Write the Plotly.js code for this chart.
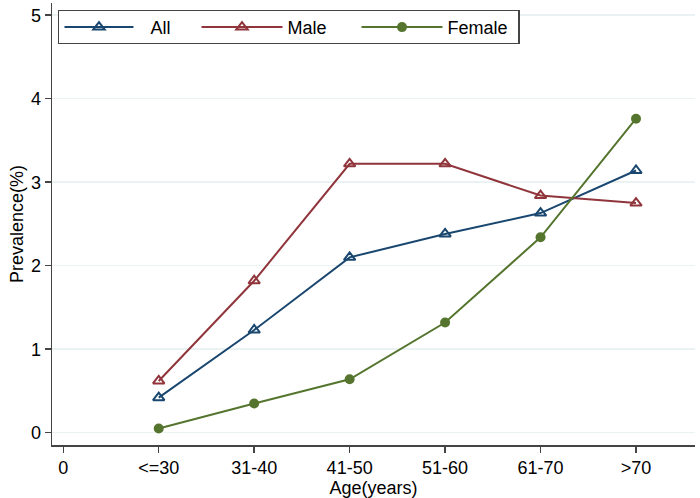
<!DOCTYPE html>
<html>
<head>
<meta charset="utf-8">
<script src="https://cdn.plot.ly/plotly-3.0.1.min.js"></script>
<style>html,body{margin:0;padding:0;background:#fff;}#chart{width:700px;height:498px;}</style>
</head>
<body>
<div id="chart"></div>
<script>
const xPos = [1, 2, 3, 4, 5, 6];
const tickVals = [0, 1, 2, 3, 4, 5, 6];
const tickLabels = ['0', '<=30', '31-40', '41-50', '51-60', '61-70', '>70'];
const allVals = [0.42, 1.23, 2.10, 2.38, 2.63, 3.14];
const maleVals = [0.62, 1.82, 3.22, 3.22, 2.84, 2.75];
const femaleVals = [0.05, 0.35, 0.64, 1.32, 2.34, 3.76];

const font = 'Liberation Sans, Arial, sans-serif';

const traces = [
  {x: xPos, y: allVals, name: 'All', mode: 'lines+markers', type: 'scatter', legend: 'legend',
   line: {color: '#1a476f', width: 2},
   marker: {symbol: 'triangle-up-open', size: 10, color: '#1a476f', line: {width: 2}}},
  {x: xPos, y: maleVals, name: 'Male', mode: 'lines+markers', type: 'scatter', legend: 'legend2',
   line: {color: '#90353b', width: 2},
   marker: {symbol: 'triangle-up-open', size: 10, color: '#90353b', line: {width: 2}}},
  {x: xPos, y: femaleVals, name: 'Female', mode: 'lines+markers', type: 'scatter', legend: 'legend3',
   line: {color: '#55752f', width: 2},
   marker: {symbol: 'circle', size: 10, color: '#55752f'}}
];

const legFont = {family: font, size: 18, color: '#000'};
const legY = 0.990;
const layout = {
  width: 700, height: 498,
  paper_bgcolor: '#fff', plot_bgcolor: '#fff',
  margin: {l: 52, r: 5, t: 3, b: 53, autoexpand: false},
  font: {family: font, size: 18, color: '#000'},
  showlegend: true,
  legend: {
    orientation: 'h', x: 0.0093, y: legY, xanchor: 'left', yanchor: 'top',
    bgcolor: '#fff', bordercolor: '#444', borderwidth: 1.5,
    itemwidth: 81, entrywidth: 363, font: legFont
  },
  legend2: {
    orientation: 'h', x: (195 - 52) / 643, y: legY, xanchor: 'left', yanchor: 'top',
    bgcolor: 'rgba(0,0,0,0)', borderwidth: 1.5, bordercolor: 'rgba(0,0,0,0)',
    itemwidth: 81, font: legFont
  },
  legend3: {
    orientation: 'h', x: (355 - 52) / 643, y: legY, xanchor: 'left', yanchor: 'top',
    bgcolor: 'rgba(0,0,0,0)', borderwidth: 1.5, bordercolor: 'rgba(0,0,0,0)',
    itemwidth: 81, font: legFont
  },
  xaxis: {
    range: [-0.118, 6.618], tickmode: 'array', tickvals: tickVals, ticktext: tickLabels,
    showgrid: false, zeroline: false, showline: true, linecolor: '#444', linewidth: 1.5,
    ticks: 'outside', ticklen: 6, tickcolor: '#444', tickwidth: 1.5,
    tickfont: {family: font, size: 18, color: '#000'},
    title: {text: 'Age(years)', font: {family: font, size: 18, color: '#000'}, standoff: 0}
  },
  yaxis: {
    range: [-0.147, 5.146], tickmode: 'array', tickvals: [0, 1, 2, 3, 4, 5],
    showgrid: true, gridcolor: '#eaf2f3', gridwidth: 1.5, zeroline: false,
    showline: true, linecolor: '#444', linewidth: 1.5,
    ticks: 'outside', ticklen: 6, tickcolor: '#444', tickwidth: 1.5,
    tickfont: {family: font, size: 18, color: '#000'},
    title: {text: 'Prevalence(%)', font: {family: font, size: 18, color: '#000'}, standoff: 2}
  }
};

Plotly.newPlot('chart', traces, layout, {displayModeBar: false, staticPlot: true}).then(function (gd) {
  // lengthen legend sample lines to match the reference key style
  gd.querySelectorAll('.legend .traces').forEach(function (t) {
    const ln = t.querySelector('path.js-line');
    if (ln) ln.setAttribute('d', 'M5,0h69');
    t.querySelectorAll('.legendpoints path.scatterpts').forEach(function (p) {
      p.setAttribute('transform', 'translate(39.5,0)');
    });
  });
  // tighten the framed legend box vertically around its row
  const leg = gd.querySelector('.legend');
  const bg = leg && leg.querySelector('rect.bg');
  const ln = leg && leg.querySelector('path.js-line');
  if (bg && ln) {
    const lr = ln.getBoundingClientRect();
    const br = bg.getBoundingClientRect();
    const mid = lr.top + lr.height / 2;
    const y0 = parseFloat(bg.getAttribute('y')) || 0;
    const half = 16.5;
    bg.setAttribute('y', y0 + (mid - half - br.top));
    bg.setAttribute('height', 2 * half);
  }
});
</script>
</body>
</html>
